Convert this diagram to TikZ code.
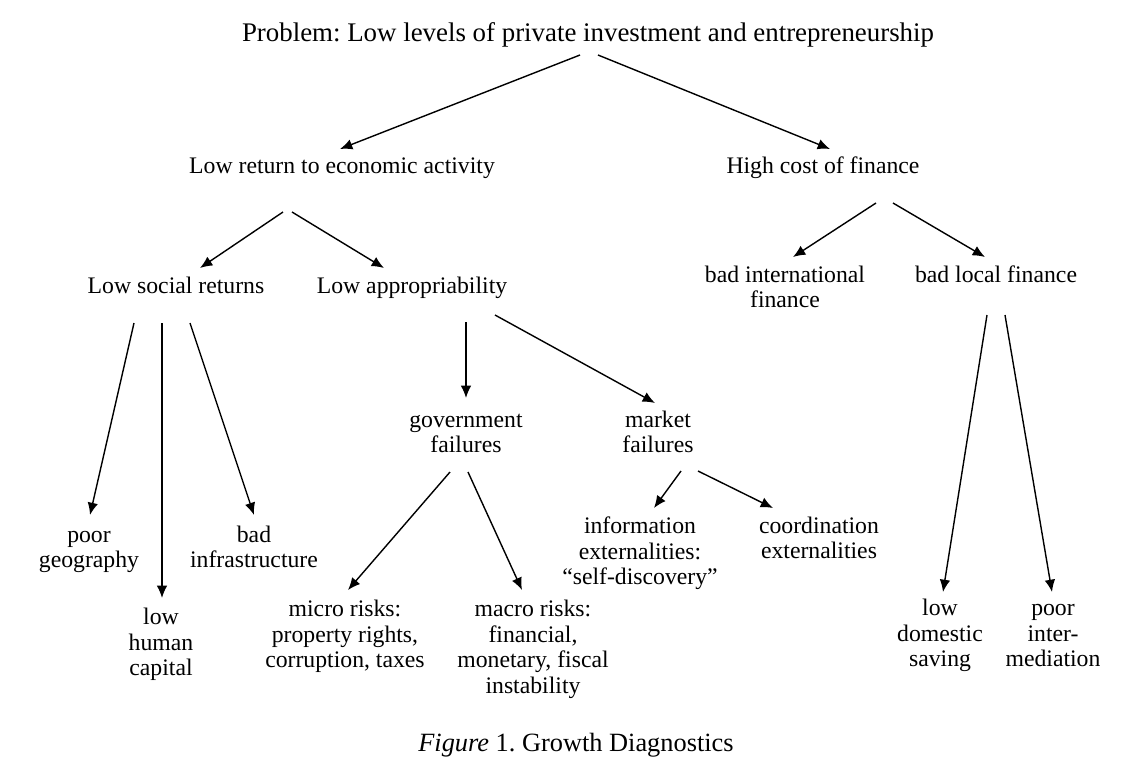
\documentclass[tikz,border=0pt]{standalone}
\usepackage{fontspec}
\setmainfont{Liberation Serif}
\usetikzlibrary{arrows.meta}
\frenchspacing
\newcommand{\sx}{\strut}
\begin{document}
\begin{tikzpicture}[x=0.02cm,y=-0.02cm,
  lbl/.style={align=center,inner sep=0pt,font=\fontsize{13.5}{14.5}\selectfont},
  big/.style={lbl,font=\fontsize{15.3}{17}\selectfont},
  arr/.style={-{Latex[length=7pt,width=6pt]},line width=0.8pt}]
\useasboundingbox (0,0) rectangle (1126,775);
% nodes
\node[big] (prob) at (588,36) {\sx Problem: Low levels of private investment and entrepreneurship\sx};
\node[lbl] (ret) at (342,168) {\sx Low return to economic activity\sx};
\node[lbl] (cost) at (823,168) {\sx High cost of finance\sx};
\node[lbl] (soc) at (176,288) {\sx Low social returns\sx};
\node[lbl] (app) at (412,288) {\sx Low appropriability\sx};
\node[lbl] (intl) at (785,290) {\sx bad international\\finance\sx};
\node[lbl] (loc) at (996,277) {\sx bad local finance\sx};
\node[lbl] (geo) at (89,550) {\sx poor\\geography\sx};
\node[lbl] (infra) at (254,550) {\sx bad\\infrastructure\sx};
\node[lbl] (hum) at (161,645) {\sx low\\human\\capital\sx};
\node[lbl] (gov) at (466,435) {\sx government\\failures\sx};
\node[lbl] (mkt) at (658,435) {\sx market\\failures\sx};
\node[lbl] (micro) at (345,637) {\sx micro risks:\\property rights,\\corruption, taxes\sx};
\node[lbl] (macro) at (533,650) {\sx macro risks:\\financial,\\monetary, fiscal\\instability\sx};
\node[lbl] (info) at (640,554) {\sx information\\externalities:\\``self-discovery''\sx};
\node[lbl] (coord) at (819,541) {\sx coordination\\externalities\sx};
\node[lbl] (sav) at (940,636) {\sx low\\domestic\\saving\sx};
\node[lbl] (inter) at (1053,636) {\sx poor\\inter-\\mediation\sx};
\node[big,font=\fontsize{15}{17}\selectfont] (cap) at (576,746) {\sx\textit{Figure} 1. Growth Diagnostics\sx};
% connector end points
\coordinate (p1) at (580,55);  \coordinate (r1) at (340,149);
\coordinate (p2) at (598,55);  \coordinate (c1) at (830,149);
\coordinate (r2) at (283,212); \coordinate (s1) at (200,268);
\coordinate (r3) at (292,212); \coordinate (a1) at (384,268);
\coordinate (c2) at (876,203); \coordinate (i1) at (793,257);
\coordinate (c3) at (893,203); \coordinate (l1) at (985,257);
\coordinate (s2) at (134,323); \coordinate (g1) at (90,515);
\coordinate (s3) at (162,323); \coordinate (h1) at (162,598);
\coordinate (s4) at (190,323); \coordinate (f1) at (254,515);
\coordinate (a2) at (466,322); \coordinate (gv1) at (466,398);
\coordinate (a3) at (495,315); \coordinate (m1) at (655,403);
\coordinate (gv2) at (450,472); \coordinate (mi1) at (348,590);
\coordinate (gv3) at (468,472); \coordinate (ma1) at (522,590);
\coordinate (m2) at (681,471); \coordinate (in1) at (654,508);
\coordinate (m3) at (698,471); \coordinate (co1) at (773,508);
\coordinate (l2) at (987,315); \coordinate (sv1) at (943,592);
\coordinate (l3) at (1005,315); \coordinate (pi1) at (1052,592);
% connectors
\draw[arr] (p1) -- (r1);
\draw[arr] (p2) -- (c1);
\draw[arr] (r2) -- (s1);
\draw[arr] (r3) -- (a1);
\draw[arr] (c2) -- (i1);
\draw[arr] (c3) -- (l1);
\draw[arr] (s2) -- (g1);
\draw[arr] (s3) -- (h1);
\draw[arr] (s4) -- (f1);
\draw[arr] (a2) -- (gv1);
\draw[arr] (a3) -- (m1);
\draw[arr] (gv2) -- (mi1);
\draw[arr] (gv3) -- (ma1);
\draw[arr] (m2) -- (in1);
\draw[arr] (m3) -- (co1);
\draw[arr] (l2) -- (sv1);
\draw[arr] (l3) -- (pi1);
\end{tikzpicture}
\end{document}
